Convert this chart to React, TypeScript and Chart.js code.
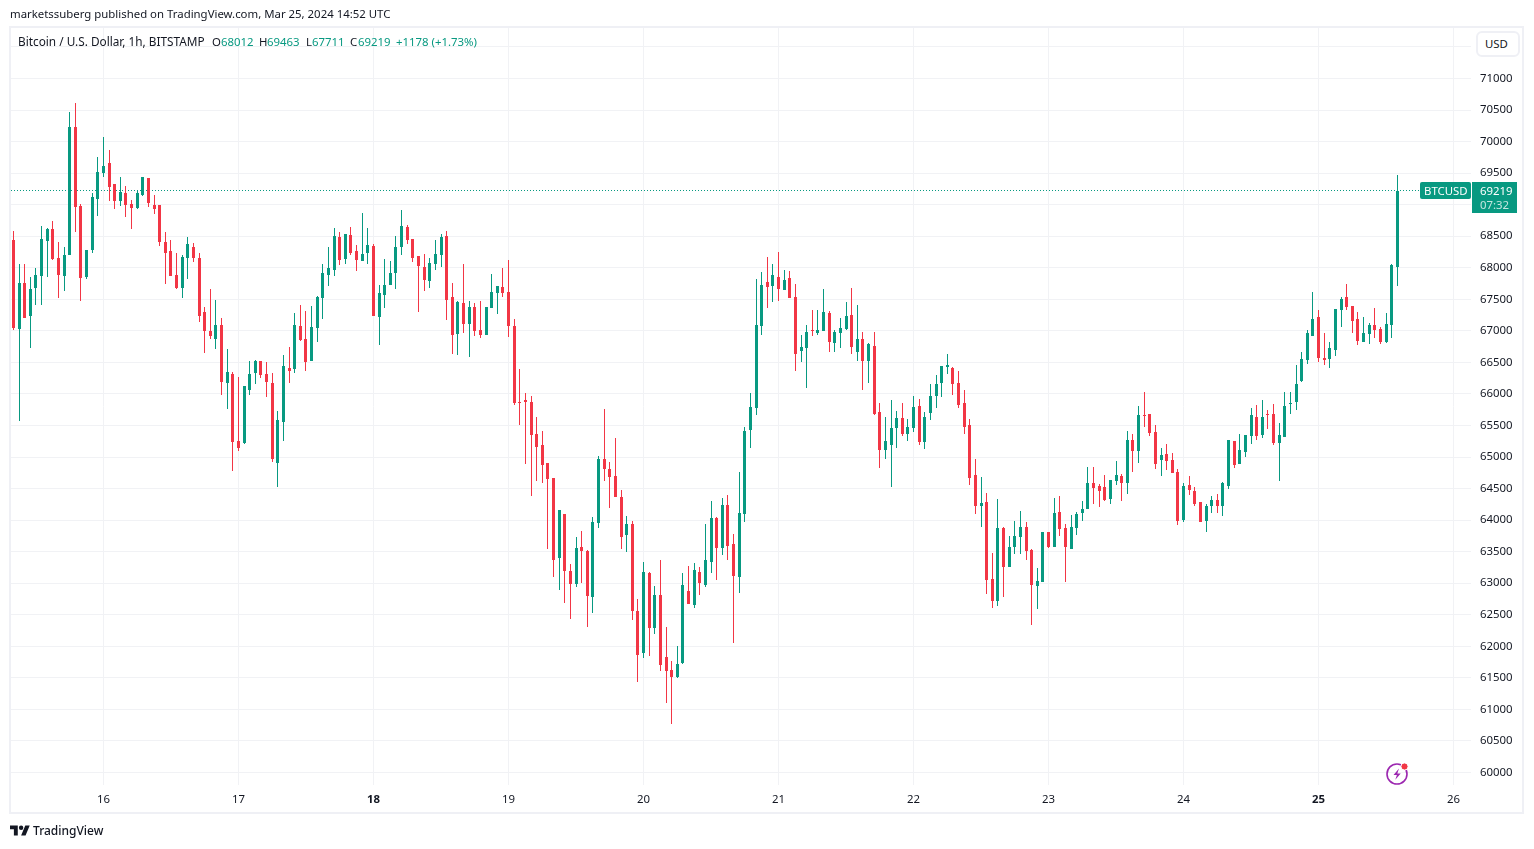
import { useEffect, useRef } from "react";
import { Chart, registerables } from "chart.js";

Chart.register(...registerables);

// hourly BTCUSD candles, first candle is Mar 15 08:00 UTC
const opens = [
  68444, 67022, 67762, 67239, 67683, 67873, 68428, 68619, 68159, 67873,
  68206, 70236, 68983, 67858, 68286, 69094, 69506, 69665, 69332, 69062,
  69189, 69015, 68951, 69158, 69427, 68999, 68999, 68412, 68270, 67889,
  67673, 68149, 68324, 68149, 67293, 66992, 66865, 67087, 66167, 66310,
  65248, 65216, 66056, 66326, 66516, 66310, 66167, 64899, 65549, 66405,
  66389, 67071, 66865, 66516, 67039, 67515, 67880, 67959, 68482, 68133,
  68514, 68260, 68102, 68228, 68339, 67214, 67562, 67721, 67911, 68324,
  68641, 68450, 68181, 68006, 67784, 68054, 68197, 68498, 67531, 66944,
  67436, 67103, 67372, 67008, 66928, 67356, 67594, 67689, 67610, 67070,
  65865, 65897, 65865, 65373, 65183, 64898, 64660, 63407, 64105, 63201,
  62995, 63582, 63518, 62789, 63962, 64961, 64818, 64692, 64374, 63772,
  63946, 62567, 61901, 63169, 62297, 62821, 61836, 61629, 61518, 61740,
  62882, 62660, 63183, 62977, 63342, 64039, 63564, 64245, 63627, 63104,
  64103, 65435, 65770, 67070, 67767, 67704, 67847, 67641, 67831, 67530,
  66673, 66721, 67006, 66959, 66991, 67276, 66800, 66959, 67022, 67244,
  66658, 66864, 66515, 66753, 65706, 65104, 65183, 65453, 65611, 65358,
  65453, 65808, 65237, 65697, 65966, 66172, 66426, 66410, 66172, 65855,
  65506, 64714, 64222, 64286, 63065, 62716, 63873, 63255, 63572, 63731,
  63889, 63525, 62954, 63017, 63810, 63572, 64127, 63873, 63540, 63881,
  64119, 64182, 64594, 64547, 64531, 64341, 64626, 64705, 64594, 65276,
  65102, 65672, 65688, 65403, 64959, 65054, 64959, 64769, 64008, 64562,
  64467, 64293, 63992, 64230, 64325, 64230, 64547, 65260, 64891, 65082,
  65335, 65637, 65351, 65684, 65684, 65224, 65320, 65843, 65874, 66208,
  66540, 66921, 67222, 66572, 66556, 66699, 67333, 67539, 67397, 67190,
  66826, 66953, 67095, 67032, 66826, 67095, 68012,
];
const highs = [
  68587, 68064, 68064, 67858, 68000, 68666, 68634, 68745, 68412, 68333,
  70474, 70616, 69015, 68286, 69189, 69760, 70077, 69871, 69332, 69443,
  69300, 69078, 69237, 69443, 69427, 69158, 68999, 68571, 68444, 68238,
  68197, 68482, 68387, 68228, 67372, 67658, 67483, 67198, 66706, 66342,
  66262, 66120, 66516, 66532, 66516, 66500, 66326, 65723, 66611, 66738,
  67277, 67404, 67309, 67388, 67547, 68054, 68324, 68625, 68561, 68530,
  68641, 68355, 68863, 68625, 68371, 67721, 68133, 68102, 68498, 68910,
  68672, 68450, 68181, 68213, 68149, 68435, 68530, 68577, 67753, 67467,
  68054, 67467, 67436, 67467, 67372, 67895, 67705, 67991, 68117, 67181,
  66388, 66008, 65960, 65627, 65405, 64898, 64660, 64168, 64105, 63312,
  63740, 63820, 63534, 64057, 65009, 65754, 64929, 65294, 64485, 64073,
  63994, 62757, 63344, 63185, 62963, 63376, 62311, 61772, 62010, 63167,
  63278, 63326, 63262, 63944, 64309, 64055, 64356, 64404, 63786, 64769,
  65482, 66021, 67815, 67926, 68164, 68053, 68243, 67958, 67942, 67736,
  66927, 67086, 67324, 67324, 67656, 67308, 67006, 67197, 67450, 67672,
  67403, 66975, 66800, 66975, 65849, 65627, 65897, 65722, 65849, 65595,
  65960, 65919, 65713, 66156, 66299, 66442, 66632, 66426, 66363, 66061,
  65602, 64967, 64682, 64428, 63477, 64333, 63889, 63747, 63984, 64143,
  63968, 63540, 63239, 63810, 63810, 64349, 64381, 63937, 64079, 64134,
  64309, 64848, 64848, 64578, 64721, 64642, 64943, 64737, 65419, 65371,
  65815, 66037, 65688, 65514, 65149, 65213, 65070, 64816, 64594, 64705,
  64531, 64293, 64261, 64388, 64420, 64610, 65276, 65260, 65367, 65351,
  65779, 65827, 65906, 65748, 65843, 65542, 66033, 66033, 66461, 66667,
  67016, 67619, 67333, 66968, 66826, 67349, 67539, 67745, 67397, 67301,
  67222, 67127, 67365, 67064, 67286, 68062, 69463,
];
const lows = [
  67007, 65574, 67207, 66732, 67414, 67414, 67858, 68127, 67525, 67636,
  68206, 68571, 67477, 67826, 68238, 68825, 69443, 69062, 68936, 68983,
  68809, 68619, 68936, 69142, 68967, 68856, 68349, 67747, 67873, 67658,
  67515, 67816, 68086, 67134, 66643, 66865, 66706, 65977, 65755, 64772,
  65089, 65200, 65977, 66151, 66247, 65945, 64915, 64518, 65248, 66167,
  66326, 66833, 66358, 66516, 66817, 67182, 67705, 67864, 68038, 68054,
  68197, 67943, 68102, 68054, 67230, 66770, 67356, 67721, 67658, 68197,
  68371, 68086, 67293, 67626, 67673, 67959, 68006, 67166, 66627, 66611,
  66960, 66579, 66912, 66881, 66928, 67356, 67261, 67531, 66897, 65817,
  65500, 64882, 64390, 64628, 64596, 63550, 63106, 62900, 62694, 62440,
  62948, 63011, 62313, 62535, 63883, 64628, 64200, 64374, 63550, 63487,
  62424, 61441, 61822, 61853, 62202, 61616, 61106, 60773, 61502, 61724,
  62676, 62612, 62818, 62945, 63167, 63056, 63453, 63373, 62057, 62850,
  63976, 65149, 65659, 66927, 67355, 67450, 67466, 67641, 67514, 66356,
  66499, 66087, 66911, 66927, 66991, 66658, 66658, 66721, 67006, 66626,
  66515, 66055, 66166, 65659, 64834, 64961, 64533, 65151, 65326, 65262,
  65389, 65189, 65126, 65586, 65776, 65950, 66315, 65982, 65776, 65364,
  64555, 64095, 63889, 62827, 62605, 62637, 62779, 63255, 63461, 63461,
  63366, 62335, 62589, 63017, 63556, 63572, 63747, 63017, 63540, 63770,
  63992, 64182, 64261, 64214, 64309, 64261, 64562, 64309, 64420, 64769,
  64911, 65482, 65339, 64816, 64705, 64800, 64753, 63928, 63976, 64404,
  64230, 63976, 63817, 64119, 64119, 64071, 64499, 64832, 64891, 65002,
  65209, 65272, 65304, 65446, 65193, 64622, 65320, 65684, 65748, 66192,
  66477, 66921, 66509, 66461, 66414, 66604, 67064, 67333, 66968, 66778,
  66826, 66794, 66889, 66794, 66810, 66889, 67711,
];
const closes = [
  67038, 67762, 67207, 67667, 67889, 68460, 68619, 68143, 67889, 68206,
  70236, 68967, 67842, 68286, 69126, 69522, 69617, 69284, 69062, 69205,
  68999, 68951, 69189, 69443, 69031, 68936, 68412, 68238, 67873, 67683,
  68165, 68371, 68149, 67230, 66992, 66912, 67087, 66183, 66342, 65232,
  65137, 66120, 66310, 66516, 66294, 66183, 64962, 65581, 66437, 66358,
  67087, 66849, 66500, 67055, 67531, 67911, 67991, 68498, 68117, 68530,
  68228, 68117, 68213, 68355, 67230, 67594, 67721, 67911, 68324, 68656,
  68435, 68149, 68022, 67800, 68070, 68213, 68482, 67483, 66928, 67452,
  67103, 67372, 66992, 66928, 67372, 67610, 67705, 67594, 67071, 65849,
  65849, 65865, 65342, 65167, 64866, 64644, 63376, 64153, 63201, 62995,
  63566, 63518, 62805, 63978, 64961, 64818, 64676, 64374, 63740, 63946,
  62567, 61869, 63185, 62297, 62821, 61711, 61613, 61518, 61724, 62977,
  62676, 63215, 63009, 63373, 64039, 63564, 64245, 63595, 63120, 64119,
  65419, 65799, 67086, 67720, 67688, 67878, 67656, 67799, 67514, 66626,
  66737, 66975, 66991, 67006, 67292, 66816, 66975, 67038, 67228, 66737,
  66864, 66515, 66784, 65690, 65104, 65262, 65468, 65611, 65373, 65484,
  65786, 65237, 65633, 65966, 66156, 66442, 66458, 66156, 65824, 65475,
  64666, 64222, 64270, 63049, 62716, 63873, 63255, 63572, 63747, 63889,
  63509, 62970, 63033, 63810, 63572, 64111, 63858, 63572, 63889, 64103,
  64182, 64594, 64515, 64467, 64325, 64642, 64721, 64594, 65276, 65102,
  65672, 65656, 65387, 64895, 65038, 64943, 64753, 63992, 64547, 64483,
  64261, 63976, 64230, 64325, 64230, 64594, 65276, 64880, 65113, 65351,
  65668, 65335, 65637, 65668, 65224, 65351, 65811, 65859, 66160, 66556,
  66968, 67190, 66572, 66540, 66731, 67349, 67508, 67381, 67159, 66842,
  66968, 67095, 67016, 66826, 67111, 68047, 69219,
];

const priceTicks = [
  60000, 60500, 61000, 61500, 62000, 62500, 63000, 63500, 64000, 64500, 65000,
  65500, 66000, 66500, 67000, 67500, 68000, 68500, 69000, 69500, 70000, 70500,
  71000, 71500,
];
// 71500 sits under the USD button, it only gets a grid line
const hiddenPriceLabels = [71500];

// hours counted from the first candle
const dayHours = [16, 40, 64, 88, 112, 136, 160, 184, 208, 232, 256];
const dayLabels = ["16", "17", "18", "19", "20", "21", "22", "23", "24", "25", "26"];
const boldDays = ["18", "25"];

const lastPrice = 69219;

const UP = "#089981";
const DOWN = "#f23645";
const GRID = "#f1f2f5";
const FRAME = "#eff0f5";
const TEXT = "#131722";
const FONT = '"Noto Sans", sans-serif';
const FONT_SIZE = 11.4;

const hours = opens.map((_, i) => i);
const candleColors = opens.map((o, i) => (closes[i] >= o ? UP : DOWN));

// keep candles and the price line on whole pixels, otherwise they blur
const snapMarks = {
  id: "snapMarks",
  afterDatasetsUpdate(chart: any) {
    chart.data.datasets.forEach((ds: any, i: number) => {
      const points = chart.getDatasetMeta(i).data;
      points.forEach((el: any) => {
        if (ds.type === "line") {
          el.y = Math.floor(el.y) + 0.5;
          return;
        }
        el.x = Math.floor(el.x) + 0.5;
        el.y = Math.round(el.y);
        el.base = Math.round(el.base);
        if (el.y === el.base) el.base = el.y + 1;
      });
    });
  },
};

function Label(props: {
  x: number;
  y: number;
  color?: string;
  size?: number;
  weight?: number;
  children: React.ReactNode;
}) {
  return (
    <div
      style={{
        position: "absolute",
        left: props.x,
        top: props.y,
        transform: "translateY(-50%)",
        color: props.color ?? TEXT,
        fontSize: props.size ?? FONT_SIZE,
        fontWeight: props.weight ?? 400,
        fontFamily: FONT,
        lineHeight: 1,
        whiteSpace: "nowrap",
      }}
    >
      {props.children}
    </div>
  );
}

export default function App() {
  const chartRef = useRef<HTMLCanvasElement>(null);

  useEffect(() => {
    if (!chartRef.current) return;

    const chart = new Chart(chartRef.current, {
      type: "bar",
      plugins: [snapMarks],
      data: {
        datasets: [
          {
            type: "line",
            data: [
              { x: -0.444, y: lastPrice },
              { x: 259.11, y: lastPrice },
            ],
            borderColor: UP,
            borderWidth: 1,
            borderDash: [1, 2],
            pointRadius: 0,
            order: 3,
          },
          {
            data: hours.map((h) => ({ x: h, y: [lows[h], highs[h]] })),
            backgroundColor: candleColors,
            barThickness: 1,
            inflateAmount: 0,
            grouped: false,
            order: 2,
          },
          {
            data: hours.map((h) => ({ x: h, y: [opens[h], closes[h]] })),
            backgroundColor: candleColors,
            barThickness: 3,
            inflateAmount: 0,
            grouped: false,
            order: 1,
          },
        ],
      } as any,
      options: {
        responsive: false,
        animation: false,
        layout: { padding: { left: 11, top: 28, right: 0, bottom: 0 } },
        plugins: {
          legend: { display: false },
          tooltip: { enabled: false },
        },
        scales: {
          x: {
            type: "linear",
            offset: false,
            min: -0.444,
            max: 259.11,
            afterFit: (scale: any) => {
              scale.height = 64;
            },
            afterBuildTicks: (scale: any) => {
              scale.ticks = dayHours.map((h) => ({ value: h }));
            },
            grid: { color: GRID, offset: false, drawTicks: false },
            border: { display: false },
            ticks: {
              padding: 8,
              maxRotation: 0,
              autoSkip: false,
              color: TEXT,
              font: (ctx: any) => ({
                family: FONT,
                size: FONT_SIZE,
                weight: boldDays.includes(dayLabels[ctx.index]) ? "bold" : "normal",
              }),
              callback: (_v: any, i: number) => dayLabels[i],
            },
          },
          y: {
            position: "right",
            min: 59802,
            max: 71800,
            afterFit: (scale: any) => {
              scale.width = 63;
            },
            afterBuildTicks: (scale: any) => {
              scale.ticks = priceTicks.map((v) => ({ value: v }));
            },
            grid: { color: GRID, drawTicks: false },
            border: { display: false },
            ticks: {
              padding: 9,
              color: TEXT,
              font: { family: FONT, size: FONT_SIZE },
              callback: (v: any) => (hiddenPriceLabels.includes(v) ? "" : String(v)),
            },
          },
        },
      },
    } as any);

    return () => chart.destroy();
  }, []);

  return (
    <div
      style={{
        position: "absolute",
        left: 0,
        top: 0,
        width: 1534,
        height: 849,
        background: "#fff",
        overflow: "hidden",
      }}
    >
      <canvas
        ref={chartRef}
        width={1534}
        height={849}
        style={{ position: "absolute", left: 0, top: 0 }}
      />

      {/* frame */}
      <div
        style={{
          position: "absolute",
          left: 9,
          top: 26,
          width: 1511,
          height: 784,
          border: `2px solid ${FRAME}`,
          pointerEvents: "none",
        }}
      />

      <Label x={10} y={14}>
        marketssuberg published on TradingView.com, Mar 25, 2024 14:52 UTC
      </Label>

      <Label x={18} y={42} size={11.8}>Bitcoin / U.S. Dollar, 1h, BITSTAMP</Label>
      <Label x={212} y={42}>O</Label>
      <Label x={221} y={42} color={UP}>68012</Label>
      <Label x={259} y={42}>H</Label>
      <Label x={267} y={42} color={UP}>69463</Label>
      <Label x={306} y={42}>L</Label>
      <Label x={312} y={42} color={UP}>67711</Label>
      <Label x={350} y={42}>C</Label>
      <Label x={358} y={42} color={UP}>69219</Label>
      <Label x={396} y={42} color={UP}>+1178 (+1.73%)</Label>

      {/* currency button */}
      <div
        style={{
          position: "absolute",
          left: 1476,
          top: 31,
          width: 40,
          height: 22,
          border: `2px solid ${FRAME}`,
          borderRadius: 6,
          background: "#fff",
        }}
      />
      <Label x={1485} y={44}>USD</Label>

      {/* last price tags */}
      <div
        style={{
          position: "absolute",
          left: 1420,
          top: 182,
          width: 51,
          height: 17,
          background: UP,
          borderRadius: 2,
        }}
      />
      <Label x={1424} y={191} color="#fff">BTCUSD</Label>
      <div
        style={{
          position: "absolute",
          left: 1472,
          top: 182,
          width: 45,
          height: 31,
          background: UP,
        }}
      />
      <Label x={1480} y={191} color="#fff">69219</Label>
      <Label x={1480} y={205} color="#c4e6df">07:32</Label>

      {/* news icon */}
      <svg
        width="26"
        height="26"
        viewBox="0 0 26 26"
        style={{ position: "absolute", left: 1384, top: 760 }}
      >
        <circle cx="13" cy="14" r="10" fill="none" stroke="#9c27b0" strokeWidth="1.6" />
        <path d="M15 8.5 9.5 15h3.4l-1.6 4.8 5.4-6.4h-3.4z" fill="#9c27b0" />
        <circle cx="20.5" cy="6.5" r="3.6" fill="#f23645" stroke="#fff" strokeWidth="1" />
      </svg>

      {/* TradingView logo */}
      <svg
        width="20"
        height="16"
        viewBox="0 0 36 28"
        style={{ position: "absolute", left: 10, top: 823 }}
      >
        <path d="M14 22H7V11H0V4h14v18zM28 22h-8l7.5-18h8L28 22z" fill={TEXT} />
        <circle cx="20" cy="8" r="4" fill={TEXT} />
      </svg>
      <Label x={33} y={831} size={12} weight={500}>TradingView</Label>
    </div>
  );
}
